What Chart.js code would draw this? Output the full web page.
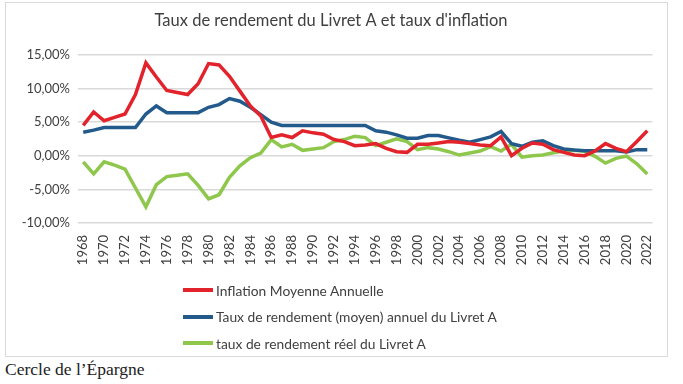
<!DOCTYPE html>
<html lang="fr">
<head>
  <meta charset="UTF-8" />
  <title>Taux de rendement du Livret A et taux d'inflation</title>
  <script src="https://cdn.jsdelivr.net/npm/chart.js"></script>
  <style>
    html, body {
      margin: 0;
      padding: 0;
      background: #fff;
      width: 683px;
      height: 384px;
      overflow: hidden;
    }

    #box {
      position: absolute;
      left: 5px;
      top: 2px;
      width: 661px;
      height: 353px;
      border: 1px solid #d9d9d9;
    }

    #box canvas {
      position: absolute;
      left: 0;
      top: 0;
    }

    #legend {
      position: absolute;
      left: 177px;
      top: 274px;
      font-family: Lato, 'Open Sans', sans-serif;
      font-size: 13.8px;
      color: #404040;
    }

    .item {
      display: flex;
      align-items: center;
      height: 26.5px;
    }

    .swatch {
      width: 30px;
      height: 4px;
      margin-right: 3px;
    }

    #source {
      position: absolute;
      left: 5px;
      top: 359px;
      font-family: 'Liberation Serif', 'DejaVu Serif', serif;
      font-size: 17.5px;
      color: #222;
    }
  </style>
</head>
<body>
  <div id="box">
    <canvas id="chart" width="661" height="353"></canvas>
    <div id="legend"></div>
  </div>
  <div id="source">Cercle de l’Épargne</div>

  <script>
    // data (values in %)
    const years = [
      "1968", "1969", "1970", "1971", "1972", "1973", "1974", "1975", "1976", "1977",
      "1978", "1979", "1980", "1981", "1982", "1983", "1984", "1985", "1986", "1987",
      "1988", "1989", "1990", "1991", "1992", "1993", "1994", "1995", "1996", "1997",
      "1998", "1999", "2000", "2001", "2002", "2003", "2004", "2005", "2006", "2007",
      "2008", "2009", "2010", "2011", "2012", "2013", "2014", "2015", "2016", "2017",
      "2018", "2019", "2020", "2021", "2022"
    ];

    const inflation = [
      4.5, 6.5, 5.2, 5.7, 6.2, 9.1, 13.8, 11.7, 9.7, 9.4,
      9.1, 10.7, 13.7, 13.5, 11.8, 9.6, 7.4, 5.9, 2.7, 3.1,
      2.7, 3.7, 3.4, 3.2, 2.4, 2.1, 1.5, 1.6, 1.8, 1.1,
      0.6, 0.5, 1.7, 1.7, 1.9, 2.1, 2.0, 1.8, 1.6, 1.5,
      2.8, 0.0, 1.1, 1.9, 1.7, 0.9, 0.5, 0.1, 0.0, 0.7,
      1.8, 1.1, 0.6, 2.1, 3.7
    ];

    const livretA = [
      3.5, 3.8, 4.2, 4.2, 4.2, 4.2, 6.2, 7.4, 6.4, 6.4,
      6.4, 6.4, 7.2, 7.6, 8.5, 8.1, 7.2, 6.1, 5.0, 4.5,
      4.5, 4.5, 4.5, 4.5, 4.5, 4.5, 4.5, 4.5, 3.7, 3.5,
      3.1, 2.6, 2.6, 3.0, 3.0, 2.65, 2.3, 2.0, 2.4, 2.8,
      3.6, 1.8, 1.4, 2.0, 2.2, 1.5, 1.0, 0.85, 0.75, 0.75,
      0.75, 0.75, 0.55, 0.9, 0.9
    ];

    const reel = [
      -0.9, -2.7, -0.9, -1.4, -2.0, -4.8, -7.6, -4.3, -3.1, -2.9,
      -2.7, -4.4, -6.4, -5.8, -3.2, -1.5, -0.3, 0.4, 2.4, 1.3,
      1.7, 0.8, 1.0, 1.2, 2.1, 2.4, 2.9, 2.7, 1.5, 2.0,
      2.5, 2.1, 0.9, 1.2, 1.0, 0.6, 0.1, 0.4, 0.7, 1.35,
      0.7, 1.7, -0.2, 0.0, 0.1, 0.45, 0.7, 0.8, 0.65, -0.1,
      -1.1, -0.4, -0.05, -1.2, -2.7
    ];

    const seriesLabels = [
      "Inflation Moyenne Annuelle",
      "Taux de rendement (moyen) annuel du Livret A",
      "taux de rendement réel du Livret A"
    ];
    const colors = ["#e3232b", "#235a8c", "#8ec74c"];

    const font = "Lato, 'Open Sans', sans-serif";

    const datasets = [inflation, livretA, reel].map((d, i) => ({
      label: seriesLabels[i],
      data: d,
      borderColor: colors[i],
      backgroundColor: colors[i],
      borderWidth: 3.5,
      pointRadius: 0,
      tension: 0,
      fill: false
    }));

    new Chart(document.getElementById("chart"), {
      type: "line",
      data: { labels: years, datasets },
      options: {
        responsive: false,
        animation: false,
        layout: { padding: { left: 0, right: 11, top: 8, bottom: 78 } },
        plugins: {
          legend: { display: false },
          tooltip: { enabled: false },
          title: {
            display: true,
            text: "Taux de rendement du Livret A et taux d'inflation",
            color: "#404040",
            font: { family: font, size: 16.5, weight: "normal" },
            padding: { top: 0, bottom: 24 }
          }
        },
        scales: {
          x: {
            offset: true,
            grid: { display: false },
            border: { display: false },
            afterFit: s => { s.height = 55; },
            ticks: {
              autoSkip: false,
              minRotation: 90,
              maxRotation: 90,
              padding: 4,
              color: "#404040",
              font: { family: font, size: 13 },
              callback: (v, i) => (i % 2 === 0 ? years[i] : "")
            }
          },
          y: {
            min: -10,
            max: 15,
            afterFit: s => { s.width = 72; },
            grid: { color: "#d9d9d9", lineWidth: 1.5, drawTicks: false },
            border: { display: false },
            ticks: {
              stepSize: 5,
              padding: 8,
              color: "#404040",
              font: { family: font, size: 13 },
              callback: v => v.toFixed(2).replace(".", ",") + "%"
            }
          }
        }
      }
    });

    // legend below the plot, one series per row
    const legend = document.getElementById("legend");
    seriesLabels.forEach((l, i) => {
      const row = document.createElement("div");
      row.className = "item";
      row.innerHTML = `<span class="swatch" style="background:${colors[i]}"></span><span>${l}</span>`;
      legend.appendChild(row);
    });
  </script>
</body>
</html>
